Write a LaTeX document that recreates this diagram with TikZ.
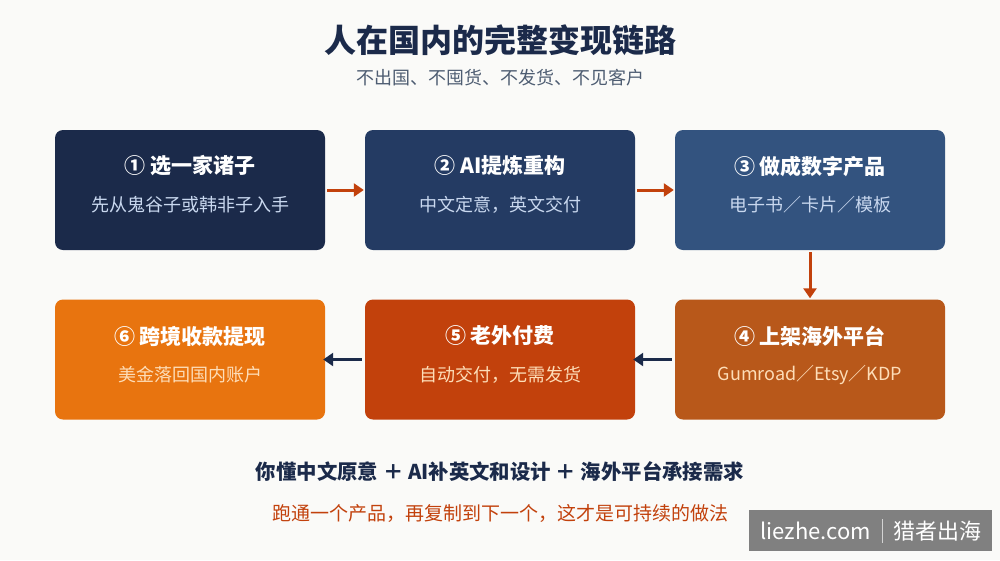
\documentclass[tikz,border=0pt]{standalone}
\usepackage{fontspec}
\setmainfont{Noto Sans CJK SC}
\usetikzlibrary{arrows.meta}
\definecolor{bg}{HTML}{FAFAF8}
\definecolor{navy}{HTML}{1B2A4A}
\definecolor{c1}{HTML}{1B2A4A}
\definecolor{c2}{HTML}{243B63}
\definecolor{c3}{HTML}{33537F}
\definecolor{c4}{HTML}{B8581A}
\definecolor{c5}{HTML}{C2410C}
\definecolor{c6}{HTML}{E8740F}
\definecolor{subgray}{HTML}{4E5D72}
\definecolor{lblue}{HTML}{C9D8EF}
\definecolor{lpeach}{HTML}{FDDDB8}
\definecolor{arrorange}{HTML}{C2410C}
\definecolor{wm}{HTML}{808080}
\tikzset{
  stepbox/.style={rounded corners=8pt, minimum width=270pt, minimum height=120pt, inner sep=0pt},
  boxtitle/.style={text=white, font=\fontsize{21pt}{24pt}\selectfont\bfseries},
  boxsub/.style={font=\fontsize{18pt}{21pt}\selectfont},
  orarrow/.style={draw=arrorange, line width=3pt, -{Triangle[length=10pt,width=13pt]}},
  nvarrow/.style={draw=navy, line width=3pt, -{Triangle[length=10pt,width=13pt]}}
}
\begin{document}
\begin{tikzpicture}[x=1pt,y=-1pt]
\fill[bg] (0,0) rectangle (1000,560);
\useasboundingbox (0,0) rectangle (1000,560);
\node[text=navy, font=\fontsize{32pt}{36pt}\selectfont\bfseries] (title) at (500,40) {人在国内的完整变现链路};
\node[text=subgray, font=\fontsize{18pt}{21pt}\selectfont] (subtitle) at (500,78) {不出国、不囤货、不发货、不见客户};
% row 1
\node[stepbox, fill=c1] (b1) at (190,190) {};
\node[stepbox, fill=c2] (b2) at (500,190) {};
\node[stepbox, fill=c3] (b3) at (810,190) {};
\node[stepbox, fill=c4] (b4) at (810,359.5) {};
\node[stepbox, fill=c5] (b5) at (500,359.5) {};
\node[stepbox, fill=c6] (b6) at (190,359.5) {};
% texts
\node[boxtitle] (t1) at (190,166) {① 选一家诸子};
\node[boxsub, text=lblue] (s1) at (190,205) {先从鬼谷子或韩非子入手};
\node[boxtitle] (t2) at (500,166) {② AI提炼重构};
\node[boxsub, text=lblue] (s2) at (500,205) {中文定意，英文交付};
\node[boxtitle] (t3) at (810,166) {③ 做成数字产品};
\node[boxsub, text=lblue] (s3) at (810,205) {电子书／卡片／模板};
\node[boxtitle] (t4) at (810,336) {④ 上架海外平台};
\node[boxsub, text=lpeach] (s4) at (810,375) {Gumroad／Etsy／KDP};
\node[boxtitle] (t5) at (500,336) {⑤ 老外付费};
\node[boxsub, text=lpeach] (s5) at (500,375) {自动交付，无需发货};
\node[boxtitle] (t6) at (190,336) {⑥ 跨境收款提现};
\node[boxsub, text=lpeach] (s6) at (190,375) {美金落回国内账户};
% arrows
\draw[orarrow] ([xshift=2pt]b1.east) -- ([xshift=-1pt]b2.west);
\draw[orarrow] ([xshift=2pt]b2.east) -- ([xshift=-1pt]b3.west);
\draw[orarrow] ([yshift=-2pt]b3.south) -- ([yshift=1pt]b4.north);
\draw[nvarrow] ([xshift=-3pt]b4.west) -- ([xshift=-2pt]b5.east);
\draw[nvarrow] ([xshift=-3pt]b5.west) -- ([xshift=-2pt]b6.east);
% bottom
\node[text=navy, font=\fontsize{20.4pt}{24pt}\selectfont\bfseries] (sum) at (500,472) {你懂中文原意 ＋ AI补英文和设计 ＋ 海外平台承接需求};
\node[text=c5, font=\fontsize{19pt}{22pt}\selectfont] (tag) at (500,513) {跑通一个产品，再复制到下一个，这才是可持续的做法};
% watermark
\node[fill=wm, minimum width=243pt, minimum height=41pt, inner sep=0pt] (wmbox) at (870.5,530.5) {};
\node[text=white, font=\fontsize{22pt}{24pt}\selectfont, anchor=east, inner sep=0pt] (wm1) at (871,531) {liezhe.com};
\draw[draw=white!65!wm, line width=1pt] (882.5,519) -- (882.5,543);
\node[text=white, font=\fontsize{22pt}{24pt}\selectfont, anchor=west, inner sep=0pt] (wm2) at (893,531) {猎者出海};
\end{tikzpicture}
\end{document}
